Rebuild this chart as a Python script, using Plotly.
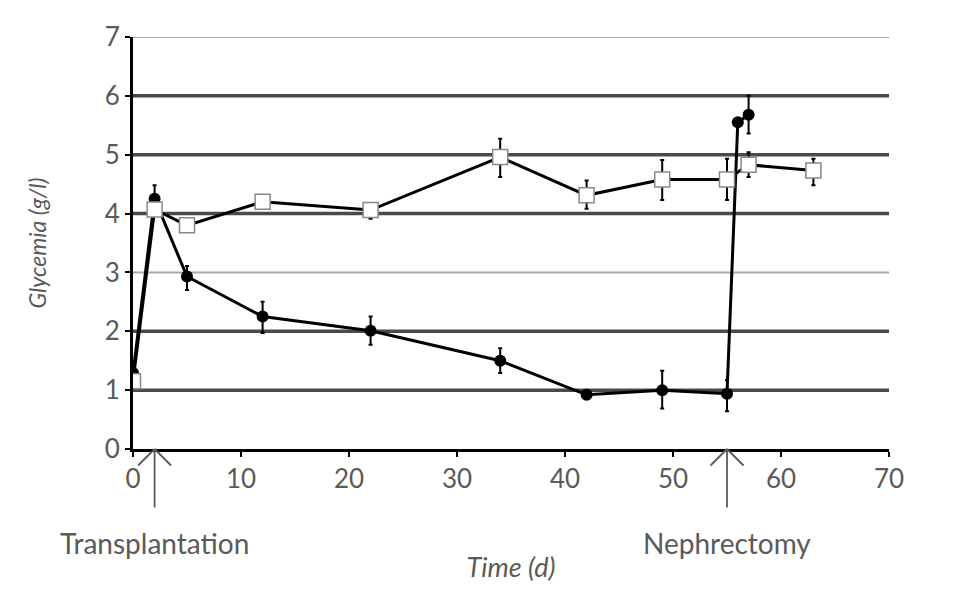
import plotly.graph_objects as go

# Filled series (black circles)
days_filled = [0, 2, 5, 12, 22, 34, 42, 49, 55, 56, 57]
gly_filled = [1.29, 4.25, 2.93, 2.25, 2.01, 1.50, 0.92, 1.00, 0.94, 5.55, 5.68]
err_up_filled = [0, 0.23, 0.18, 0.25, 0.24, 0.21, 0, 0.33, 0.23, 0, 0.32]
err_dn_filled = [0, 0.20, 0.23, 0.28, 0.24, 0.21, 0, 0.31, 0.30, 0, 0.32]

# Open series (white squares)
days_open = [0, 2, 5, 12, 22, 34, 42, 49, 55, 57, 63]
gly_open = [1.15, 4.07, 3.80, 4.20, 4.06, 4.96, 4.31, 4.58, 4.58, 4.83, 4.73]
err_up_open = [0, 0, 0, 0.06, 0.12, 0.31, 0.25, 0.33, 0.35, 0.21, 0.20]
err_dn_open = [0, 0, 0, 0.06, 0.15, 0.34, 0.23, 0.35, 0.35, 0.21, 0.25]

x_ticks = [0, 10, 20, 30, 40, 50, 60, 70]
y_ticks = [0, 1, 2, 3, 4, 5, 6, 7]
thin_grid = [3, 7]

events = [("Transplantation", 2), ("Nephrectomy", 55)]

FONT = "Lato"
GREY = "#5a5a5a"

fig = go.Figure()

fig.add_trace(go.Scatter(
    x=days_filled, y=gly_filled, mode="lines+markers",
    line=dict(color="black", width=3),
    marker=dict(symbol="circle", size=12, color="black"),
    error_y=dict(type="data", symmetric=False, array=err_up_filled,
                 arrayminus=err_dn_filled, color="black", thickness=2, width=2),
    showlegend=False,
))
fig.add_trace(go.Scatter(
    x=days_open, y=gly_open, mode="lines+markers",
    line=dict(color="black", width=3),
    marker=dict(symbol="square", size=15, color="white",
                line=dict(color="#888888", width=1.5)),
    error_y=dict(type="data", symmetric=False, array=err_up_open,
                 arrayminus=err_dn_open, color="black", thickness=2, width=2),
    showlegend=False,
))

shapes = []
for v in y_ticks[1:]:
    thin = v in thin_grid
    shapes.append(dict(type="line", xref="paper", x0=0, x1=1, yref="y", y0=v, y1=v,
                       line=dict(color="#aaaaaa" if thin else "#4a4a4a",
                                 width=2 if thin else 3.5),
                       layer="below"))

annotations = []
for label, day in events:
    # shaft and the two arms of an open arrow head, all pointing at the x axis
    for dx, dy in [(0, 60), (-18, 18), (18, 18)]:
        annotations.append(dict(x=day, y=0, xref="x", yref="y", text="", showarrow=True,
                                ax=dx, ay=dy, axref="pixel", ayref="pixel",
                                arrowhead=0, arrowwidth=1.8, arrowcolor=GREY))
    annotations.append(dict(x=day, y=-0.227, xref="x", yref="paper", text=label,
                            showarrow=False, yanchor="middle", xanchor="center",
                            font=dict(family=FONT, size=28, color=GREY)))

fig.update_layout(
    width=955, height=604,
    margin=dict(l=125, r=74, t=29, b=163),
    paper_bgcolor="white", plot_bgcolor="white",
    font=dict(family=FONT, color=GREY),
    shapes=shapes, annotations=annotations,
    xaxis=dict(range=[0, 70], tickvals=x_ticks, showgrid=False, zeroline=False,
               showline=True, linecolor="black", linewidth=3,
               ticks="outside", ticklen=5, tickwidth=2, tickcolor="black",
               tickfont=dict(family=FONT, size=26, color=GREY),
               title=dict(text="<i>Time (d)</i>", standoff=65,
                          font=dict(family=FONT, size=27, color=GREY))),
    yaxis=dict(range=[0, 7], tickvals=y_ticks, showgrid=False, zeroline=False,
               showline=True, linecolor="black", linewidth=3,
               ticks="outside", ticklen=5, tickwidth=2, tickcolor="black",
               tickfont=dict(family=FONT, size=26, color=GREY),
               title=dict(text="<i>Glycemia (g/l)</i>", standoff=52,
                          font=dict(family=FONT, size=23, color=GREY))),
)

fig.write_html("out.html")
